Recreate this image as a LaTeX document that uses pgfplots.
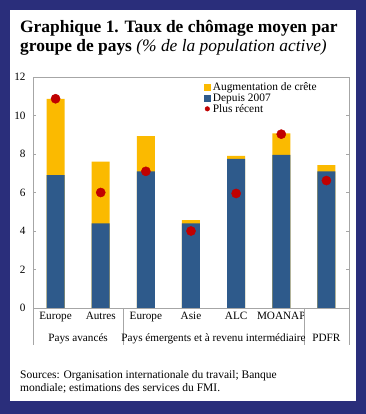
\documentclass[border=0pt]{standalone}
\usepackage{pgfplots}
\pgfplotsset{compat=1.18}
\usepackage{fontspec}
\setmainfont{Liberation Serif}
\definecolor{navy}{HTML}{2A2E7B}
\definecolor{barblue}{HTML}{2E5A8B}
\definecolor{baryellow}{HTML}{FBBA00}
\definecolor{dotred}{HTML}{C00000}
\definecolor{axgray}{HTML}{A6A6A6}
\begin{document}
\begin{tikzpicture}[x=1bp,y=1bp]
\fill[navy] (0,0) rectangle (366,414);
\fill[white] (10,13) rectangle (356,404);
\node[anchor=base west,inner sep=0pt,font=\fontsize{17.4bp}{19bp}\selectfont\bfseries] at (20,382) {Graphique 1. Taux de chômage moyen par};
\node[anchor=base west,inner sep=0pt,font=\fontsize{17.4bp}{19bp}\selectfont] at (20,363) {\textbf{groupe de pays} \textit{(\% de la population active)}};
\node[anchor=base west,inner sep=0pt,font=\fontsize{11.5bp}{13bp}\selectfont] at (20,36) {Sources: Organisation internationale du travail; Banque};
\node[anchor=base west,inner sep=0pt,font=\fontsize{11.5bp}{13bp}\selectfont] at (20,23) {mondiale; estimations des services du FMI.};
\begin{axis}[
  at={(33bp,106bp)}, anchor=south west,
  scale only axis, width=316bp, height=231bp,
  xmin=-0.5, xmax=6.5, ymin=0, ymax=12,
  ytick={0,2,...,12},
  xtick={0,...,6},
  xticklabels={Europe,Autres,Europe,Asie,ALC,MOANAP,},
  major x tick style={draw=none},
  ytick style={axgray},
  major tick length=3bp,
  axis line style={axgray},
  tick label style={font=\fontsize{11.2bp}{13bp}\selectfont, text=black},
  /pgf/number format/assume math mode=true,
  yticklabel style={xshift=-4bp},
  xticklabel style={yshift=-1bp},
  clip=false,
  legend style={at={(axis description cs:0.54,0.985)}, anchor=north west, draw=none, fill=none,
    font=\fontsize{11.4bp}{12bp}\selectfont, row sep=-2.5bp, inner sep=0pt},
  legend cell align=left,
]
\addplot[ybar, bar width=18bp, bar shift=0pt, fill=baryellow, draw=none,
  legend image code/.code={\fill[baryellow] (0bp,-3.5bp) rectangle (7bp,3.5bp);}]
  coordinates {(0,10.87) (1,7.6) (2,8.93) (3,4.56) (4,7.9) (5,9.07) (6,7.42)};
\addlegendentry{Augmentation de crête}
\addplot[ybar, bar width=18bp, bar shift=0pt, fill=barblue, draw=none,
  legend image code/.code={\fill[barblue] (0bp,-3.5bp) rectangle (7bp,3.5bp);}]
  coordinates {(0,6.9) (1,4.4) (2,7.1) (3,4.4) (4,7.75) (5,7.95) (6,7.1)};
\addlegendentry{Depuis 2007}
\addplot[only marks, mark=*, mark size=4.6bp, mark options={fill=dotred, draw=dotred},
  legend image code/.code={\fill[dotred] (3.5bp,0bp) circle (2.3bp);}]
  coordinates {(0,10.87) (1,6.0) (2,7.1) (3,4.0) (4,5.95) (5,9.03) (6,6.62)};
\addlegendentry{Plus récent}
\draw[axgray] (axis cs:-0.5,0) -- ++(0pt,-37bp);
\draw[axgray] (axis cs:1.5,0) -- ++(0pt,-37bp);
\draw[axgray] (axis cs:5.5,0) -- ++(0pt,-37bp);
\draw[axgray] (axis cs:6.5,0) -- ++(0pt,-37bp);
\node[anchor=base,inner sep=0pt,font=\fontsize{11.2bp}{13bp}\selectfont] at ([yshift=-34bp]axis cs:0.5,0) {Pays avancés};
\node[anchor=base,inner sep=0pt,font=\fontsize{11.2bp}{13bp}\selectfont] at ([yshift=-34bp]axis cs:3.5,0) {Pays émergents et à revenu intermédiaire};
\node[anchor=base,inner sep=0pt,font=\fontsize{11.2bp}{13bp}\selectfont] at ([yshift=-34bp]axis cs:6,0) {PDFR};
\end{axis}
\end{tikzpicture}
\end{document}
